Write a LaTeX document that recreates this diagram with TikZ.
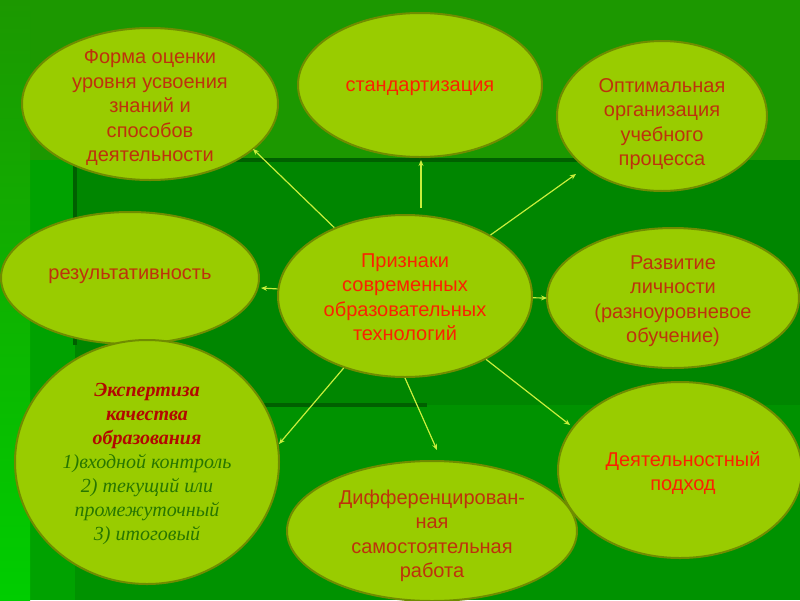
\documentclass[tikz,border=0pt]{standalone}
\usepackage{fontspec}
\setmainfont{Liberation Sans}
\newfontfamily\serifit{Liberation Serif}
\usetikzlibrary{shapes.geometric,arrows.meta}
\definecolor{bgmid}{RGB}{0,146,0}
\definecolor{bgtop}{RGB}{28,152,0}
\definecolor{bgdark}{RGB}{0,134,0}
\definecolor{bgleft}{RGB}{0,162,0}
\definecolor{bgbright}{RGB}{0,205,0}
\definecolor{bgline}{RGB}{0,96,0}
\definecolor{bubblefill}{RGB}{153,204,0}
\definecolor{bubbleedge}{RGB}{112,140,0}
\definecolor{textdark}{RGB}{190,50,12}
\definecolor{textred}{RGB}{250,34,0}
\definecolor{titlered}{RGB}{178,8,0}
\definecolor{listgreen}{RGB}{40,118,0}
\definecolor{linkcol}{RGB}{200,238,60}
\begin{document}
\begin{tikzpicture}[x=1pt,y=-1pt,
  bubble/.style={ellipse, draw=bubbleedge, line width=2pt, fill=bubblefill, inner sep=0pt},
  txt/.style={align=center, font=\fontsize{20}{24.5}\selectfont, text=textdark},
  txtred/.style={txt, text=textred},
  link/.style={draw=linkcol, line width=1.2pt, -{Stealth[length=6pt,width=5pt]}}]
% background
\useasboundingbox (0,0) rectangle (800,600);
\fill[bgmid] (0,0) rectangle (800,600);
\fill[bgtop] (0,0) rectangle (800,160);
\fill[bgleft] (0,160) rectangle (75,600);
\shade[top color=bgtop, bottom color=bgbright] (0,0) rectangle (30,600);
\fill[bgdark] (75,160) rectangle (800,405);
\fill[bgline] (75,158) rectangle (580,162);
\fill[bgline] (73,160) rectangle (77,345);
\fill[bgline] (75,403) rectangle (427,407);
% bubbles
\node[bubble, minimum width=256pt, minimum height=152pt] (forma) at (150,104) {};
\node[bubble, minimum width=244pt, minimum height=144pt] (standard) at (420,85) {};
\node[bubble, minimum width=210pt, minimum height=150pt] (optimal) at (662,116) {};
\node[bubble, minimum width=258pt, minimum height=132pt] (result) at (130,278) {};
\node[bubble, minimum width=254pt, minimum height=162pt] (c) at (405,296) {};
\node[bubble, minimum width=252pt, minimum height=140pt] (razvitie) at (673,298) {};
\node[bubble, minimum width=264pt, minimum height=244pt] (expert) at (147,462) {};
\node[bubble, minimum width=290pt, minimum height=140pt] (diff) at (432,531) {};
\node[bubble, minimum width=244pt, minimum height=176pt] (deyat) at (680,470) {};
% texts
\node[txt] (tforma) at (150,108) {Форма оценки\\уровня усвоения\\знаний и\\способов\\деятельности};
\node[txtred] (tstandard) at (420,88) {стандартизация};
\node[txt] (toptimal) at (662,124) {Оптимальная\\организация\\учебного\\процесса};
\node[txt] (tresult) at (130,276) {результативность};
\node[txtred] (tc) at (405,297) {Признаки\\современных\\образовательных\\технологий};
\node[txt] (trazvitie) at (673,301) {Развитие\\личности\\(разноуровневое\\обучение)};
\node[align=center, font=\serifit\itshape\fontsize{20}{24}\selectfont] (texpert) at (147,464)
  {{\bfseries\color{titlered}Экспертиза}\\{\bfseries\color{titlered}качества}\\{\bfseries\color{titlered}образования}\\
   {\color{listgreen}1)входной контроль}\\{\color{listgreen}2) текущий или}\\{\color{listgreen}промежуточный}\\{\color{listgreen}3) итоговый}};
\node[txt] (tdiff) at (432,536) {Дифференцирован-\\ная\\самостоятельная\\работа};
\node[txtred] (tdeyat) at (683,473) {Деятельностный\\подход};
% connector ends
\coordinate (pForma) at (253,149);
\coordinate (sStandard) at (421,208);
\coordinate (pStandard) at (421,160);
\coordinate (pOptimal) at (576,174);
\coordinate (pResult) at (261,288);
\coordinate (pRazvitie) at (547,298);
\coordinate (pExpert) at (279,444);
\coordinate (pDiff) at (437,450);
\coordinate (pDeyat) at (570,425);
% connectors
\draw[link] (c) -- (pForma);
\draw[link] (sStandard) -- (pStandard);
\draw[link] (c) -- (pOptimal);
\draw[link] (c) -- (pResult);
\draw[link] (c) -- (pRazvitie);
\draw[link] (c) -- (pExpert);
\draw[link] (c.south) -- (pDiff);
\draw[link] (c) -- (pDeyat);
\end{tikzpicture}
\end{document}
